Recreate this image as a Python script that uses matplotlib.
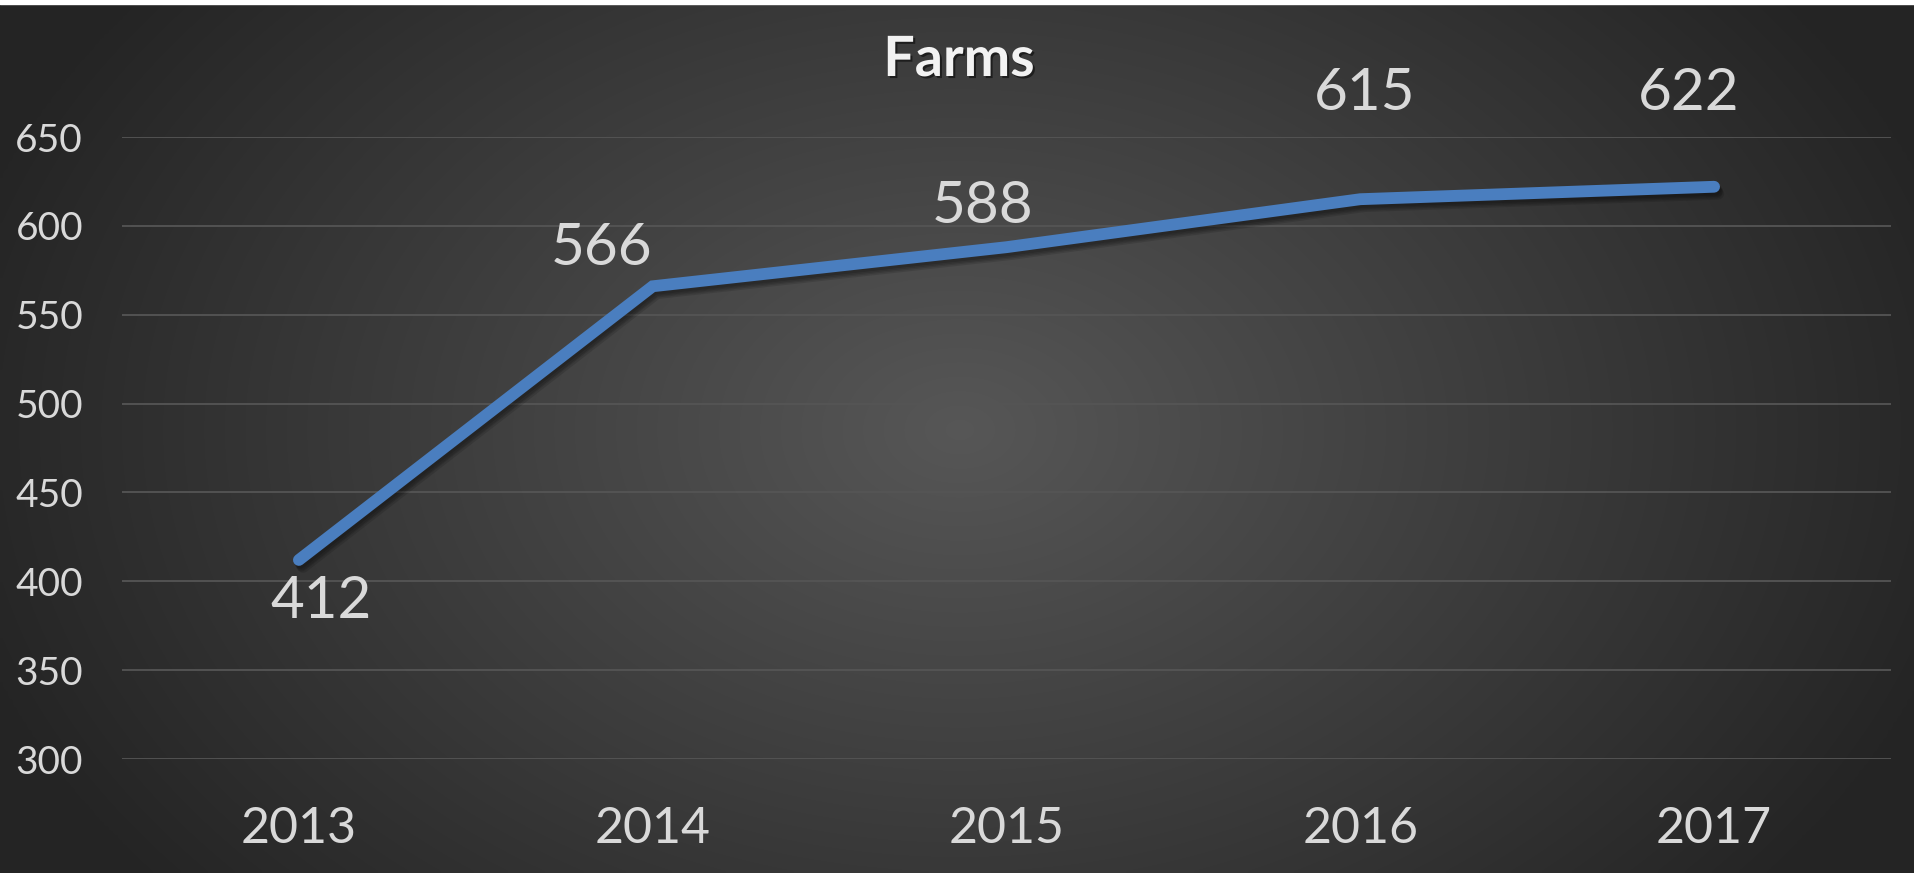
import numpy as np
import matplotlib
matplotlib.use("Agg")
import matplotlib.pyplot as plt
import matplotlib.patheffects as pe

years = ["2013", "2014", "2015", "2016", "2017"]
farms = [412, 566, 588, 615, 622]
y_ticks = [300, 350, 400, 450, 500, 550, 600, 650]

# hand-placed label offsets (points) relative to each data point
label_offsets = [(16, -30), (-37, 27), (-17, 29), (3, 76), (-18, 67)]

W, H, DPI = 1915, 873, 100
plt.rcParams['font.family'] = ['Lato', 'DejaVu Sans']

fig = plt.figure(figsize=(W / DPI, H / DPI), dpi=DPI)

# radial grey background, lighter in the middle
bg = fig.add_axes([0, 0, 1, 1], zorder=-10)
xx, yy = np.meshgrid(np.linspace(0, W, 400), np.linspace(0, H, 200))
r = np.sqrt(((xx - 960) / 1000) ** 2 + ((yy - 430) / 700) ** 2)
shade = np.clip(0.34 - 0.19 * r, 0.145, 0.34)
img = np.dstack([shade, shade, shade])
bg.imshow(img, extent=[0, W, H, 0], aspect='auto', interpolation='bilinear')
bg.fill_between([0, W], 0, 4, color='white')
bg.set_xlim(0, W)
bg.set_ylim(H, 0)
bg.axis('off')

ax = fig.add_axes([122 / W, (H - 759) / H, (1891 - 122) / W, (759 - 137) / H])
ax.set_facecolor('none')

# soft drop shadow: a few faint offset copies under the line
shadow = [pe.SimpleLineShadow(offset=(dx, -dy), alpha=0.12, shadow_color='black')
          for dx, dy in [(1, 2), (2, 3), (2, 4), (3, 5)]]
x = np.arange(len(years))
ax.plot(x, farms, color='#4a7ebf', lw=8.5, solid_capstyle='round',
        solid_joinstyle='miter', path_effects=shadow + [pe.Normal()], zorder=3)

for xi, v, off in zip(x, farms, label_offsets):
    ax.annotate(str(v), (xi, v), xytext=off, textcoords='offset points',
                ha='center', va='center', fontsize=42, color='#d9d9d9', zorder=4)

ax.set_xlim(-0.5, len(years) - 0.5)
ax.set_ylim(y_ticks[0], y_ticks[-1])
ax.set_yticks(y_ticks)
ax.set_xticks(x)
ax.set_xticklabels(years)
ax.grid(axis='y', color='#555555', lw=1.3)
ax.set_axisbelow(True)
for s in ax.spines.values():
    s.set_visible(False)
ax.tick_params(axis='y', length=0, pad=28, labelsize=28, labelcolor='#d9d9d9')
ax.tick_params(axis='x', length=0, pad=34, labelsize=36, labelcolor='#d9d9d9')

fig.text(959 / W, 1 - 60 / H, "Farms", ha='center', va='center', fontsize=40,
         fontweight='bold', color='#f2f2f2',
         path_effects=[pe.SimplePatchShadow(offset=(1.5, -1.5), shadow_rgbFace='black', alpha=0.5),
                       pe.Normal()])

fig.savefig("out.png", dpi=DPI)
